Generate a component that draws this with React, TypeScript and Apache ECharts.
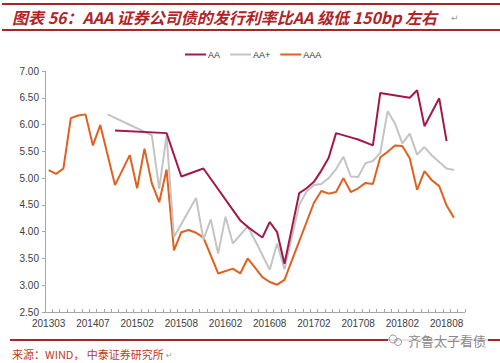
import React, { useEffect, useRef } from "react";
import * as echarts from "echarts";

const categories: string[] = [
  "201303", "201305", "201308", "201310", "201312", "201403",
  "201407", "201408", "201409", "201410", "201411", "201501",
  "201502", "201503", "201504", "201505", "201506", "201507",
  "201508", "201509", "201510", "201511", "201512", "201601",
  "201602", "201603", "201604", "201605", "201606", "201607",
  "201608", "201609", "201610", "201611", "201612", "201701",
  "201702", "201703", "201704", "201705", "201706", "201707",
  "201708", "201709", "201710", "201711", "201712", "201801",
  "201802", "201803", "201804", "201805", "201806", "201807",
  "201808", "201809", "201810",
];

const seriesNames: string[] = ["AA", "AA+", "AAA"];

const aa: (number | null)[] = [
  null, null, null, null, null, null, null, null, null, 5.89,
  null, null, null, null, null, null, 5.84, null, 5.03, null,
  null, 5.18, null, null, null, null, 4.21, 4.09, 3.99, 3.89,
  4.18, 3.99, 3.4, null, 4.72, 4.81, 4.93, 5.14, 5.38, 5.84,
  null, 5.76, 5.72, null, 5.61, 6.59, null, null, null, 6.5,
  6.64, 5.97, null, 6.49, 5.69, null, null,
];

const aaPlus: (number | null)[] = [
  null, null, null, null, null, null, null, null, 6.19, null,
  null, null, null, null, 5.8, 4.8, 5.8, 3.9, null, null,
  4.63, 3.85, 4.23, 3.59, 4.28, 3.78, null, 4.1, 3.84, null,
  3.29, 3.78, 3.3, null, 4.5, 4.75, 4.87, 4.89, 5.0, 5.17,
  5.4, 5.03, 5.02, 5.28, 5.32, 5.47, 6.25, 6.02, 5.65, 5.83,
  5.44, 5.58, 5.42, 5.3, 5.18, 5.15, null,
];

const aaa: (number | null)[] = [
  5.15, 5.08, 5.18, 6.12, 6.17, 6.19, 5.61, 5.99, null, 4.87,
  null, 5.43, 4.81, 5.55, 4.9, 4.55, 5.16, 3.65, 3.99, 4.03,
  3.98, 3.89, null, 3.22, null, 3.31, 3.22, 3.5, 3.33, 3.15,
  3.06, 3.01, 3.1, null, null, null, 4.54, 4.76, 4.71, 4.74,
  5.0, 4.74, 4.81, 4.91, 4.89, 5.39, 5.49, 5.61, 5.6, 5.37,
  4.78, 5.13, 4.96, 4.85, 4.49, 4.26, null,
];

const colors: string[] = ["#A3184C", "#C4C4C4", "#E0611F"];

const titleText = "图表 56：AAA 证券公司债的发行利率比AA 级低 150bp 左右";
const sourceText = "来源：WIND， 中泰证券研究所";
const watermarkText = "齐鲁太子看债";

export default function App() {
  const ref = useRef<HTMLDivElement>(null);
  useEffect(() => {
    if (!ref.current) return;
    const chart = echarts.init(ref.current, null, { renderer: "svg" });
    const values = [aa, aaPlus, aaa];
    chart.setOption({
      animation: false,
      backgroundColor: "#ffffff",
      grid: { left: 45, right: 35, top: 71, bottom: 51, containLabel: false },
      legend: {
        data: seriesNames,
        top: 45,
        left: 180,
        icon: "rect",
        itemWidth: 21,
        itemHeight: 2,
        itemGap: 10,
        textStyle: { fontSize: 9, color: "#333", fontFamily: "Liberation Sans", padding: [0, 0, 0, -3] },
      },
      xAxis: {
        type: "category",
        data: categories,
        boundaryGap: true,
        axisLine: { lineStyle: { color: "#A6A6A6", width: 1 } },
        axisTick: { show: true, inside: true, length: 3, interval: 0, lineStyle: { color: "#A6A6A6" } },
        axisLabel: { interval: 5, fontSize: 10, color: "#404040", margin: 6, fontFamily: "Liberation Sans" },
        splitLine: { show: false },
      },
      yAxis: {
        type: "value",
        min: 2.5,
        max: 7,
        interval: 0.5,
        axisLine: { show: true, lineStyle: { color: "#A6A6A6", width: 1 } },
        axisTick: { show: true, length: 3, lineStyle: { color: "#A6A6A6" } },
        axisLabel: {
          fontSize: 10,
          color: "#404040",
          margin: 6,
          fontFamily: "Liberation Sans",
          formatter: (v: number) => v.toFixed(2),
        },
        splitLine: { show: false },
      },
      series: seriesNames.map((name, i) => ({
        name,
        type: "line",
        data: values[i],
        connectNulls: true,
        symbol: "none",
        lineStyle: { color: colors[i], width: 2 },
        itemStyle: { color: colors[i] },
        z: 3 - i,
      })),
      graphic: [
        { type: "line", shape: { x1: 2, y1: 4, x2: 500, y2: 4 }, style: { stroke: "#A8262B", lineWidth: 2 } },
        { type: "line", shape: { x1: 2, y1: 30, x2: 500, y2: 30 }, style: { stroke: "#A8262B", lineWidth: 2 } },
        {
          type: "text",
          x: 12,
          y: 17,
          style: {
            text: titleText,
            fill: "#B02326",
            font: "italic bold 16px 'Noto Sans CJK SC', sans-serif",
            textVerticalAlign: "middle",
          },
        },
        {
          type: "text",
          x: 451,
          y: 18,
          style: { text: "↵", fill: "#9a9a9a", font: "9px 'DejaVu Sans'", textVerticalAlign: "middle" },
        },
        { type: "line", shape: { x1: 10, y1: 340, x2: 500, y2: 340 }, style: { stroke: "#A8262B", lineWidth: 2 } },
        {
          type: "text",
          x: 12,
          y: 354,
          style: {
            text: sourceText,
            fill: "#C0392B",
            font: "11px 'Noto Sans CJK SC', sans-serif",
            textVerticalAlign: "middle",
          },
        },
        {
          type: "text",
          x: 166,
          y: 355,
          style: { text: "↵", fill: "#9a9a9a", font: "8px 'DejaVu Sans'", textVerticalAlign: "middle" },
        },
        { type: "rect", shape: { x: 388, y: 331, width: 100, height: 18 }, style: { fill: "rgba(255,255,255,0.85)" } },
        { type: "circle", shape: { cx: 393, cy: 339, r: 4 }, style: { fill: "none", stroke: "#9a9a9a", lineWidth: 1 } },
        { type: "circle", shape: { cx: 398, cy: 342, r: 3.5 }, style: { fill: "none", stroke: "#9a9a9a", lineWidth: 1 } },
        {
          type: "text",
          x: 408,
          y: 340,
          style: {
            text: watermarkText,
            fill: "#8a8a8a",
            font: "13px 'Noto Sans CJK SC', sans-serif",
            textVerticalAlign: "middle",
          },
        },
      ],
    });
    return () => chart.dispose();
  }, []);
  return <div ref={ref} style={{ width: 500, height: 363, position: "absolute", left: 0, top: 0 }} />;
}
